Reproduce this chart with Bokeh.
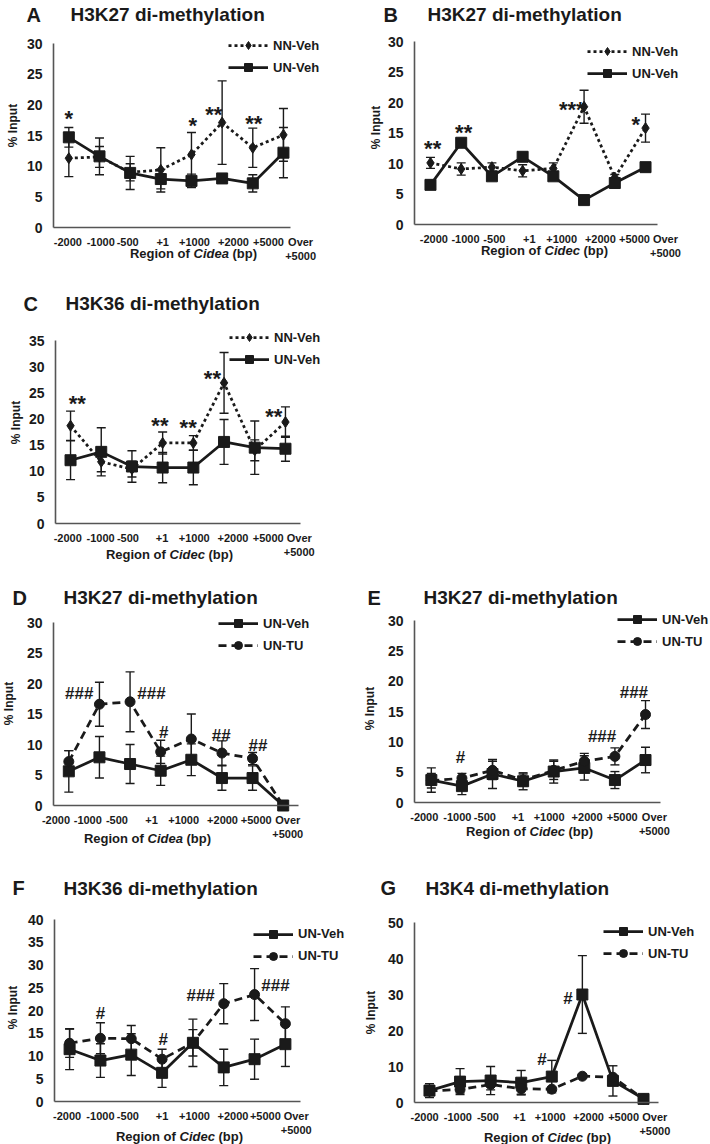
import math
from bokeh.plotting import figure
from bokeh.layouts import column, row
from bokeh.models import (Range1d, FixedTicker, Label, Legend, LegendItem, LinearAxis,
                          ColumnDataSource, Whisker, TeeHead)
from bokeh.embed import file_html
from bokeh.resources import INLINE
from bokeh.core.properties import value

# ---------------- data ----------------
regions = ["-2000", "-1000", "-500", "+1", "+1000", "+2000", "+5000", "Over\n+5000"]

# A: H3K27 di-methylation, Cidea
a_nn_veh = [11.3, 11.5, 9.0, 9.4, 11.9, 17.1, 13.0, 15.1]
a_nn_veh_err = [3.0, 1.7, 1.4, 3.6, 3.6, 6.8, 3.2, 4.3]
a_un_veh = [14.7, 11.6, 8.9, 7.9, 7.6, 8.0, 7.2, 12.2]
a_un_veh_err = [1.6, 3.0, 2.7, 1.6, 1.1, 0.5, 1.4, 4.1]
a_sig_x = [0.0, 4.04, 4.73, 6.03]
a_sig_y = [17.7, 16.6, 18.5, 16.9]
a_sig_t = ["*", "*", "**", "**"]

# B: H3K27 di-methylation, Cidec
b_nn_veh = [10.1, 9.1, 9.4, 8.8, 9.2, 19.3, 7.7, 15.8]
b_nn_veh_err = [0.9, 1.0, 0.7, 1.0, 0.9, 2.7, 0.5, 2.3]
b_un_veh = [6.5, 13.4, 7.9, 11.1, 7.9, 4.0, 6.8, 9.4]
b_un_veh_err = [0.3, 0.4, 0.5, 0.7, 0.5, 0.3, 0.5, 0.6]
b_sig_x = [0.07, 1.08, 4.6, 6.68]
b_sig_y = [12.4, 15.1, 18.9, 16.4]
b_sig_t = ["**", "**", "***", "*"]

# C: H3K36 di-methylation, Cidec
c_nn_veh = [18.7, 11.8, 10.4, 15.4, 15.4, 26.9, 14.0, 19.4]
c_nn_veh_err = [2.8, 1.9, 1.5, 2.1, 1.4, 5.8, 2.0, 2.9]
c_un_veh = [12.1, 13.7, 10.9, 10.7, 10.7, 15.6, 14.5, 14.3]
c_un_veh_err = [3.7, 4.6, 3.0, 2.9, 3.3, 4.3, 5.1, 2.4]
c_sig_x = [0.22, 2.91, 3.83, 4.62, 6.62]
c_sig_y = [22.9, 18.8, 18.3, 27.7, 20.5]
c_sig_t = ["**", "**", "**", "**", "**"]

# D: H3K27 di-methylation, Cidea
d_un_veh = [5.6, 7.9, 6.8, 5.7, 7.5, 4.5, 4.5, 0.0]
d_un_veh_err = [3.4, 3.4, 3.2, 2.4, 2.6, 2.0, 2.0, 0.0]
d_un_tu = [7.2, 16.6, 17.0, 8.8, 10.9, 8.6, 7.7, 0.0]
d_un_tu_err = [1.8, 3.6, 4.9, 1.9, 4.1, 2.0, 1.0, 0.0]
d_sig_x = [0.34, 2.7, 3.1, 4.98, 6.18]
d_sig_y = [18.3, 18.3, 12.0, 11.5, 9.8]
d_sig_t = ["###", "###", "#", "##", "##"]

# E: H3K27 di-methylation, Cidec
e_un_veh = [3.7, 2.7, 4.7, 3.5, 5.1, 5.7, 3.7, 7.0]
e_un_veh_err = [2.0, 1.4, 2.4, 1.4, 1.9, 2.0, 1.4, 2.1]
e_un_tu = [3.6, 4.0, 5.3, 3.7, 5.3, 6.8, 7.6, 14.5]
e_un_tu_err = [1.2, 0.8, 1.5, 1.0, 1.5, 1.3, 1.4, 2.3]
e_sig_x = [0.95, 5.58, 6.62]
e_sig_y = [7.4, 10.8, 18.2]
e_sig_t = ["#", "###", "###"]

# F: H3K36 di-methylation, Cidec
f_un_veh = [11.5, 9.0, 10.3, 6.3, 12.9, 7.5, 9.3, 12.6]
f_un_veh_err = [4.5, 3.7, 4.6, 3.2, 5.2, 4.0, 4.4, 4.9]
f_un_tu = [12.8, 13.9, 13.8, 9.3, 12.9, 21.5, 23.5, 17.1]
f_un_tu_err = [3.1, 3.4, 2.9, 2.2, 2.9, 4.4, 5.7, 3.7]
f_sig_x = [1.0, 3.04, 4.25, 6.68]
f_sig_y = [19.3, 13.6, 23.3, 25.5]
f_sig_t = ["#", "#", "###", "###"]

# G: H3K4 di-methylation, Cidec
g_un_veh = [3.3, 5.8, 6.1, 5.5, 7.2, 30.0, 6.0, 1.0]
g_un_veh_err = [1.9, 3.6, 3.9, 3.4, 4.5, 10.8, 4.2, 0.3]
g_un_tu = [3.2, 3.6, 5.0, 3.8, 3.7, 7.3, 7.0, 1.0]
g_un_tu_err = [0.8, 1.0, 1.5, 1.5, 0.5, 0.5, 0.5, 0.2]
g_sig_x = [3.68, 4.53]
g_sig_y = [12.0, 28.9]
g_sig_t = ["#", "#"]

# ---------------- style ----------------
FONT = "Liberation Sans"
INK = "#1a1a1a"
AXIS = "#555555"
W = 355
STYLES = {
    "NN-Veh": dict(dash="3 3", marker="diamond", size=11),
    "UN-Veh": dict(dash="solid", marker="square", size=11),
    "UN-TU": dict(dash="8 5", marker="circle", size=10),
}

BOLD_W = {"R": 722, "e": 556, "g": 611, "i": 278, "o": 611, "n": 611, " ": 278,
          "f": 333, "(": 333, "b": 611, "p": 611, ")": 333}
ITAL_W = {"C": 722, "i": 278, "d": 611, "e": 556, "a": 556, "c": 556}


def tw(s, table, size):
    return sum(table.get(ch, 556) for ch in s) * size / 1000.0


def build(spec):
    H = spec["H"]
    L, T, R, B = spec["frame"]
    ymax, ystep = spec["ymax"], spec["ystep"]
    x0, x1 = spec["xr"]
    ppx = (R - L) / (x1 - x0)
    ppy = (B - T) / ymax
    xr = Range1d(x0 - L / ppx, x1 + (W - R) / ppx)
    yr = Range1d(-(H - B) / ppy, ymax + T / ppy)
    p = figure(width=W, height=H, output_backend="svg", toolbar_location=None,
               x_range=xr, y_range=yr, min_border=0,
               outline_line_color=None, background_fill_color="white",
               border_fill_color="white")
    p.title.text = ""
    p.grid.visible = False

    xa, ya = p.xaxis[0], p.yaxis[0]
    xa.fixed_location = 0
    xa.bounds = (x0, x1)
    xa.ticker = FixedTicker(ticks=[])
    xl = LinearAxis(fixed_location=0, axis_line_color=None,
                    ticker=FixedTicker(ticks=spec["tick_pos"]),
                    major_label_overrides={t: r for t, r in zip(spec["tick_pos"], regions)})
    p.add_layout(xl, "below")
    ya.fixed_location = x0
    ya.bounds = (0, ymax)
    ya.ticker = FixedTicker(ticks=list(range(0, ymax + 1, ystep)))
    for ax in (xa, ya, xl):
        ax.axis_line_width = 1.6
        ax.major_tick_line_color = None
        ax.minor_tick_line_color = None
        ax.major_tick_out = 0
        ax.major_tick_in = 0
        ax.minor_tick_out = 0
        ax.minor_tick_in = 0
        ax.major_label_text_font = FONT
        ax.major_label_text_font_style = "bold"
        ax.major_label_text_color = INK
    xa.axis_line_color = AXIS
    ya.axis_line_color = AXIS
    xl.major_label_text_font_size = "11px"
    xl.major_label_standoff = 8
    ya.major_label_text_font_size = "14px"
    ya.major_label_standoff = 11

    items = []
    for name, ys, es in spec["series"]:
        st = STYLES[name]
        xs = list(range(len(ys)))
        src = ColumnDataSource(dict(x=xs, y=ys,
                                    lo=[y - e for y, e in zip(ys, es)],
                                    hi=[y + e for y, e in zip(ys, es)]))
        wk = Whisker(source=src, base="x", upper="hi", lower="lo",
                     line_color=INK, line_width=1.4,
                     upper_head=TeeHead(size=9, line_color=INK, line_width=1.4),
                     lower_head=TeeHead(size=9, line_color=INK, line_width=1.4))
        p.add_layout(wk)
        lr = p.line("x", "y", source=src, line_color=INK, line_width=2.75,
                    line_dash=st["dash"])
        sr = p.scatter("x", "y", source=src, marker=st["marker"], size=st["size"],
                       fill_color=INK, line_color=INK)
        items.append(LegendItem(label=name, renderers=[lr, sr]))

    n = len(items)
    leg_h = n * 20 + (n - 1) * 2
    leg_top = spec["leg_y1"] - 10
    leg = Legend(items=items, location=(spec["leg_x"], H - (leg_top + leg_h)),
                 orientation="vertical", glyph_width=40, glyph_height=20,
                 label_height=20, spacing=2, padding=0, margin=0,
                 label_standoff=5, border_line_alpha=0, background_fill_alpha=0,
                 label_text_font=FONT, label_text_font_style="bold",
                 label_text_font_size="13px", label_text_color=INK)
    p.add_layout(leg)

    sx, sy, stxt = spec["sig"]
    for kind, fsize in (("*", "22px"), ("#", "17px")):
        idx = [i for i, t in enumerate(stxt) if kind in t]
        if idx:
            p.text(x=[sx[i] for i in idx], y=[sy[i] for i in idx],
                   text=[stxt[i] for i in idx], text_font=value(FONT),
                   text_font_size=value(fsize), text_font_style="bold",
                   text_align="center", text_baseline="middle", text_color=INK)

    def lab(x, y, text, size, style="bold", align="left", angle=0.0):
        p.add_layout(Label(x=x, y=H - y, x_units="screen", y_units="screen",
                           text=text, text_font=FONT, text_font_size=size,
                           text_font_style=style, text_align=align,
                           text_baseline="middle", text_color=INK, angle=angle))

    lab(spec["letter_x"], spec["title_y"], spec["letter"], "20px")
    lab(spec["title_x"], spec["title_y"], spec["title"], "19px")
    lab(spec["ylab"][0], spec["ylab"][1], "% Input", "12px", align="center",
        angle=math.pi / 2)

    fs = 13
    w1 = tw("Region of", BOLD_W, fs)
    wsp = tw(" ", BOLD_W, fs)
    w2 = tw(spec["gene"], ITAL_W, fs)
    w3 = tw("(bp)", BOLD_W, fs)
    total = w1 + wsp + w2 + wsp + w3
    xs0 = spec["xlab_cx"] - total / 2
    yl = B + spec["xlab_dy"]
    lab(xs0, yl, "Region of", "13px")
    lab(xs0 + w1 + wsp, yl, spec["gene"], "13px", style="bold italic")
    lab(xs0 + w1 + wsp + w2 + wsp, yl, "(bp)", "13px")
    return p


specs = [
    dict(letter="A", title="H3K27 di-methylation", gene="Cidea", ymax=30, ystep=5,
         series=[("NN-Veh", a_nn_veh, a_nn_veh_err), ("UN-Veh", a_un_veh, a_un_veh_err)],
         sig=(a_sig_x, a_sig_y, a_sig_t),
         tick_pos=[-0.03, 1.04, 1.92, 3.06, 4.10, 5.37, 6.51, 7.56],
         H=289, frame=(53, 43, 290, 227), xr=(-0.5, 7.23), letter_x=26, title_x=70,
         title_y=14, ylab=(12, 125), xlab_cx=193, xlab_dy=26, leg_x=228, leg_y1=45),
    dict(letter="B", title="H3K27 di-methylation", gene="Cidec", ymax=30, ystep=5,
         series=[("NN-Veh", b_nn_veh, b_nn_veh_err), ("UN-Veh", b_un_veh, b_un_veh_err)],
         sig=(b_sig_x, b_sig_y, b_sig_t),
         tick_pos=[0.11, 1.14, 2.08, 3.22, 4.27, 5.53, 6.64, 7.65],
         H=289, frame=(59, 41, 302, 224), xr=(-0.52, 7.39), letter_x=28, title_x=72,
         title_y=14, ylab=(20, 127), xlab_cx=189, xlab_dy=26, leg_x=232, leg_y1=51),
    dict(letter="C", title="H3K36 di-methylation", gene="Cidec", ymax=35, ystep=5,
         series=[("NN-Veh", c_nn_veh, c_nn_veh_err), ("UN-Veh", c_un_veh, c_un_veh_err)],
         sig=(c_sig_x, c_sig_y, c_sig_t),
         tick_pos=[-0.09, 0.98, 1.87, 2.98, 4.03, 5.29, 6.44, 7.45],
         H=294, frame=(55, 51, 300, 234), xr=(-0.49, 7.49), letter_x=23, title_x=65,
         title_y=14, ylab=(15, 133), xlab_cx=169, xlab_dy=31, leg_x=229, leg_y1=48),
    dict(letter="D", title="H3K27 di-methylation", gene="Cidea", ymax=30, ystep=5,
         series=[("UN-Veh", d_un_veh, d_un_veh_err), ("UN-TU", d_un_tu, d_un_tu_err)],
         sig=(d_sig_x, d_sig_y, d_sig_t),
         tick_pos=[-0.42, 0.62, 1.57, 2.70, 3.75, 5.02, 6.12, 7.15],
         H=291, frame=(53, 39, 298, 222), xr=(-0.5, 7.5), letter_x=12, title_x=63,
         title_y=14, ylab=(8, 120), xlab_cx=147, xlab_dy=33, leg_x=218, leg_y1=40),
    dict(letter="E", title="H3K27 di-methylation", gene="Cidec", ymax=30, ystep=5,
         series=[("UN-Veh", e_un_veh, e_un_veh_err), ("UN-TU", e_un_tu, e_un_tu_err)],
         sig=(e_sig_x, e_sig_y, e_sig_t),
         tick_pos=[-0.23, 0.85, 1.75, 2.83, 3.85, 5.09, 6.24, 7.29],
         H=291, frame=(59, 37, 305, 219), xr=(-0.55, 7.49), letter_x=12, title_x=68,
         title_y=14, ylab=(14, 125), xlab_cx=174, xlab_dy=29, leg_x=262, leg_y1=36),
    dict(letter="F", title="H3K36 di-methylation", gene="Cidec", ymax=40, ystep=5,
         series=[("UN-Veh", f_un_veh, f_un_veh_err), ("UN-TU", f_un_tu, f_un_tu_err)],
         sig=(f_sig_x, f_sig_y, f_sig_t),
         tick_pos=[-0.08, 1.0, 1.89, 3.0, 4.05, 5.3, 6.35, 7.35],
         H=270, frame=(54, 45, 300, 227), xr=(-0.49, 7.49), letter_x=12, title_x=63,
         title_y=13.5, ylab=(12, 133), xlab_cx=179, xlab_dy=35, leg_x=253, leg_y1=59.5),
    dict(letter="G", title="H3K4 di-methylation", gene="Cidec", ymax=50, ystep=10,
         series=[("UN-Veh", g_un_veh, g_un_veh_err), ("UN-TU", g_un_tu, g_un_tu_err)],
         sig=(g_sig_x, g_sig_y, g_sig_t),
         tick_pos=[-0.16, 0.93, 1.91, 2.94, 3.95, 5.2, 6.35, 7.37],
         H=270, frame=(59, 48, 303, 228), xr=(-0.49, 7.49), letter_x=25, title_x=70,
         title_y=13.5, ylab=(15, 138), xlab_cx=192, xlab_dy=35, leg_x=248, leg_y1=57),
]

figs = [build(s) for s in specs]
layout = column(row(figs[0], figs[1]), row(figs[2]), row(figs[3], figs[4]),
                row(figs[5], figs[6]), spacing=0)

open("out.html", "w").write(file_html(layout, INLINE))
